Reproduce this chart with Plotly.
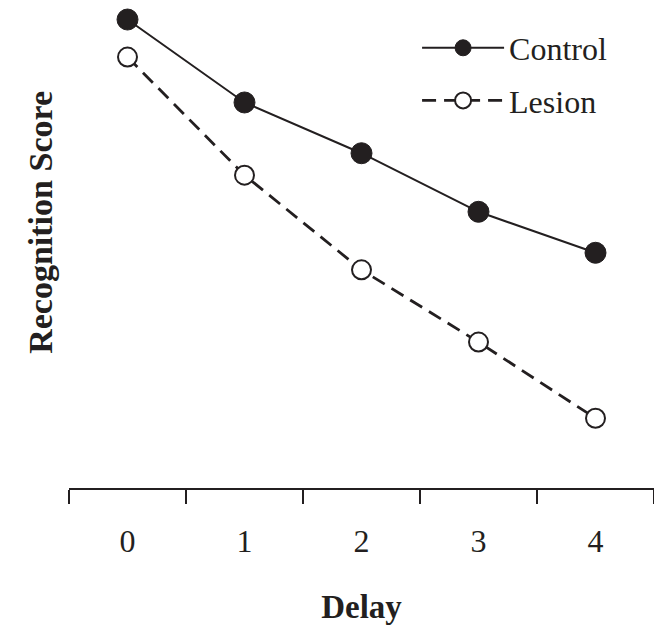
import plotly.graph_objects as go

delay = [0, 1, 2, 3, 4]
control = [96, 79, 68.6, 56.6, 48.2]
lesion = [88.3, 64.1, 44.7, 29.9, 14.3]

FONT = "Liberation Serif, Times New Roman, serif"
INK = "#231f20"

fig = go.Figure()
fig.add_trace(go.Scatter(
    x=delay, y=control, name="Control", mode="lines+markers", legendgroup="a",
    line=dict(color=INK, width=2),
    marker=dict(symbol="circle", size=21, color=INK,
                line=dict(color=INK, width=1)),
))
fig.add_trace(go.Scatter(
    x=delay, y=lesion, name="Lesion", mode="lines+markers", legendgroup="b",
    line=dict(color=INK, width=2.8, dash="14px,8px"),
    marker=dict(symbol="circle", size=19, color="white",
                line=dict(color=INK, width=2)),
))

fig.update_layout(
    width=654, height=625,
    margin=dict(l=69, r=0, t=0, b=137),
    paper_bgcolor="white", plot_bgcolor="white",
    font=dict(family=FONT, color=INK, size=32),
    showlegend=True,
    legend=dict(x=0.595, y=0.958, xanchor="left", yanchor="top",
                bgcolor="rgba(0,0,0,0)", font=dict(size=32),
                itemwidth=82, traceorder="grouped", tracegroupgap=8),
    xaxis=dict(
        range=[-0.5, 4.5], tickmode="array", tickvals=delay,
        ticktext=[str(d) for d in delay],
        showline=True, linecolor=INK, linewidth=1.5,
        ticks="", showgrid=False, zeroline=False,
        tickfont=dict(size=32), ticklabelstandoff=24,
        minor=dict(tickvals=[-0.5, 0.5, 1.5, 2.5, 3.5, 4.5], ticks="outside",
                   ticklen=14, tickcolor=INK, tickwidth=1.5, showgrid=False),
        title=dict(text="<b>Delay</b>", font=dict(size=33), standoff=37),
    ),
    yaxis=dict(
        range=[0, 100], showline=False, showticklabels=False, ticks="",
        showgrid=False, zeroline=False,
    ),
    annotations=[dict(
        text="<b>Recognition Score</b>", textangle=-90,
        xref="paper", yref="paper", x=-0.05, y=0.545,
        xanchor="center", yanchor="middle", showarrow=False,
        font=dict(size=34, family=FONT, color=INK),
    )],
)

fig.write_html("out.html", config={"displayModeBar": False},
               post_script="document.body.style.margin='0';")
